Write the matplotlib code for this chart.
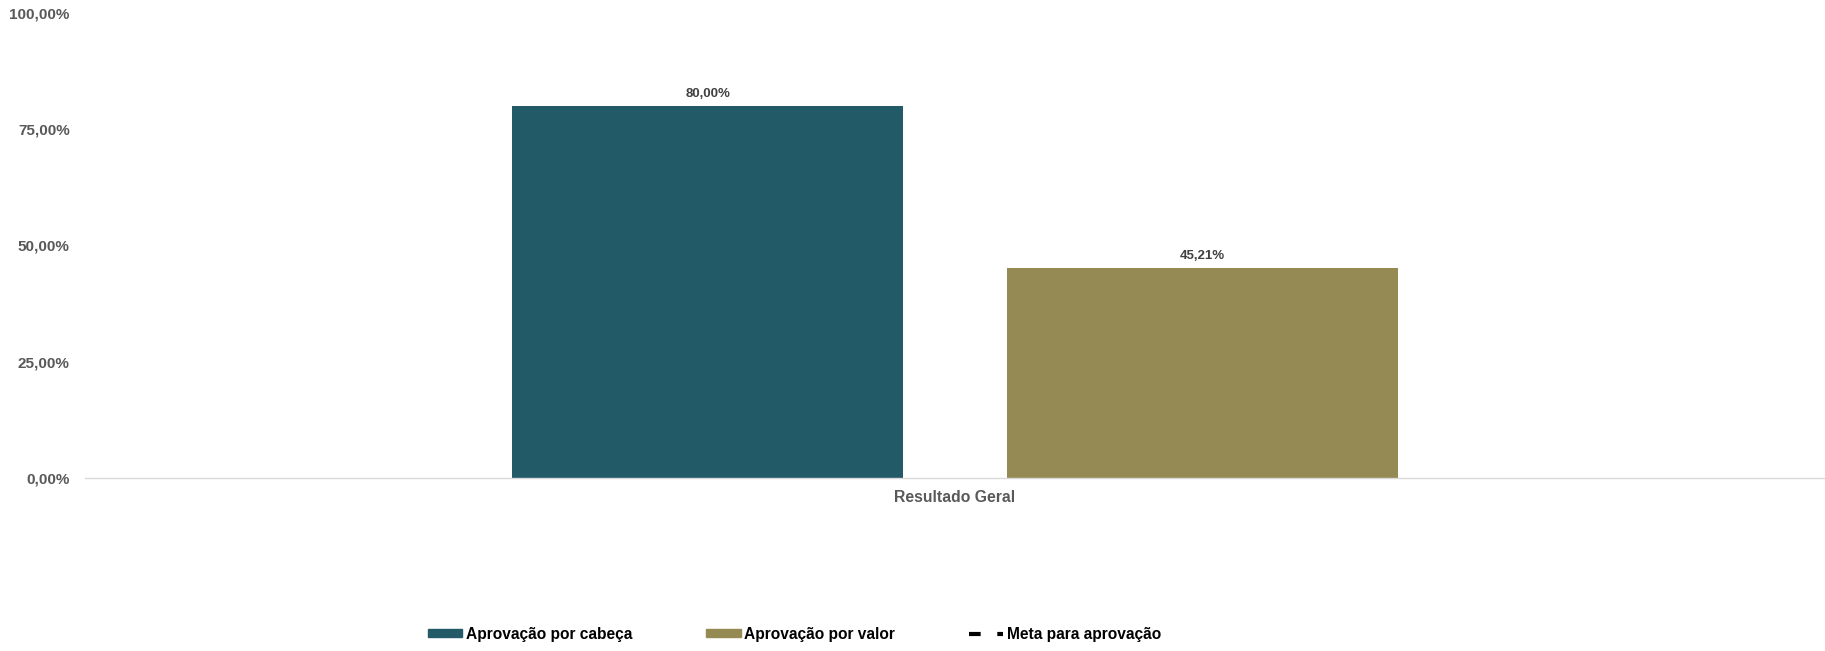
import matplotlib
matplotlib.use("Agg")
import matplotlib.pyplot as plt
from matplotlib.patches import Patch
from matplotlib.lines import Line2D
from matplotlib.ticker import FuncFormatter

plt.rcParams['font.family'] = ['Liberation Sans', 'DejaVu Sans']

categories = ["Resultado Geral"]
series_names = ["Aprovação por cabeça", "Aprovação por valor", "Meta para aprovação"]
cabeca = [80.00]
valor = [45.21]
colors = ["#225A67", "#958A53"]
yticks = [0, 25, 50, 75, 100]

def fmt(v):
    return f"{v:.2f}".replace(".", ",") + "%"

fig = plt.figure(figsize=(18.25, 6.51), dpi=100)
ax = fig.add_axes([85/1825, 1-478/651, 1740/1825, 465/651])

width = 0.2247
offsets = [-0.1422, 0.1422]
for vals, off, col in zip([cabeca, valor], offsets, colors):
    xs = [i + off for i in range(len(categories))]
    bars = ax.bar(xs, vals, width=width, color=col, zorder=2)
    for b, v in zip(bars, vals):
        ax.text(b.get_x() + b.get_width()/2, v + 1.3, fmt(v), ha='center', va='bottom',
                fontsize=9.5, fontweight='bold', color='#404040')

ax.set_xlim(-0.5, len(categories) - 0.5)
ax.set_ylim(0, 100)
ax.set_yticks(yticks)
ax.yaxis.set_major_formatter(FuncFormatter(lambda v, p: fmt(v)))
ax.set_xticks(range(len(categories)))
ax.set_xticklabels(categories)
for s in ['top', 'right', 'left']:
    ax.spines[s].set_visible(False)
ax.spines['bottom'].set_color('#D9D9D9')
ax.spines['bottom'].set_linewidth(1)
ax.tick_params(axis='y', length=0, labelsize=11, labelcolor='#595959', pad=11)
ax.tick_params(axis='x', length=0, labelsize=11.3, labelcolor='#595959', pad=9)
for lbl in ax.get_yticklabels() + ax.get_xticklabels():
    lbl.set_fontweight('bold')

handles = [Patch(color=colors[0]), Patch(color=colors[1]),
           Line2D([0], [0], color='black', lw=3, linestyle=(0, (2.8, 4.0)))]
leg = fig.legend(handles, series_names, loc='center left', bbox_to_anchor=(414/1825, 17/651),
                 ncol=3, frameon=False, handlelength=2.2, handleheight=0.5, handletextpad=0.25,
                 columnspacing=4.75, prop={'weight': 'bold', 'size': 11.2})

fig.savefig("out.png", dpi=100)
